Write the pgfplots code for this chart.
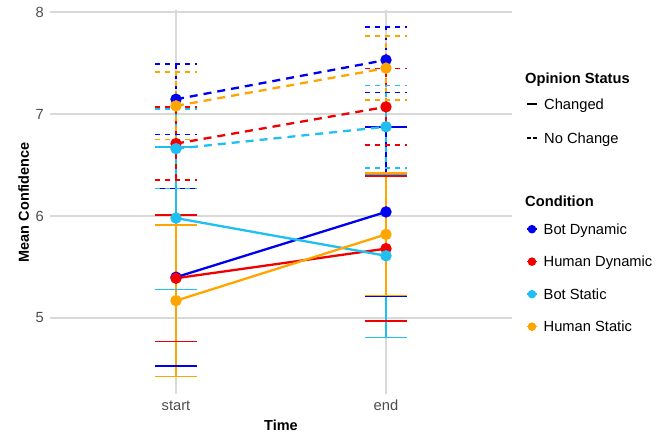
\documentclass[border=0pt]{standalone}
\usepackage{fontspec}
\setmainfont{Liberation Sans}
\usepackage{pgfplots}
\pgfplotsset{compat=1.18}
\definecolor{cBD}{HTML}{0000F0}
\definecolor{cHD}{HTML}{F00000}
\definecolor{cBS}{HTML}{1FBFF2}
\definecolor{cHS}{HTML}{FFA500}
\definecolor{gridc}{HTML}{D9D9D9}
\definecolor{tickc}{HTML}{4D4D4D}
\newcommand\fs{\fontsize{14.7}{17}\selectfont}
\pgfplotsset{
  ebar/.style n args={2}{forget plot, color=#1, only marks, mark=none,
    error bars/.cd, y dir=both, y explicit, error mark=none,
    error bar style={color=#1, line width=1.7pt, #2}},
  cap/.style n args={2}{forget plot, color=#1, line width=1.7pt, #2, mark=none, unbounded coords=jump},
  ln/.style n args={2}{forget plot, #1, line width=2.3pt, #2, mark=*, mark size=4.5pt, mark options={solid, fill=#1, draw=#1}},
  keyline/.style={legend image code/.code={\draw[##1] (0pt,0pt) -- (10pt,0pt);}},
  keypt/.style={legend image code/.code={\draw[##1] (0pt,0pt) -- (10pt,0pt); \fill[##1] (5pt,0pt) circle (3.5pt);}},
}
\begin{document}
\begin{tikzpicture}
\useasboundingbox (-50pt,-43.5pt) rectangle (617pt,394.5pt);
\begin{axis}[
  at={(0pt,0pt)}, anchor=south west, scale only axis, width=462pt, height=384.5pt,
  xmin=0.4, xmax=2.6, ymin=4.25, ymax=8.02,
  axis line style={draw=none}, major tick length=0pt,
  xtick={1,2}, xticklabels={start,end}, ytick={5,6,7,8},
  grid=major, major grid style={gridc, line width=1.2pt},
  ticklabel style={font=\fs, text=tickc},
  /pgf/number format/assume math mode=true,
  xticklabel style={anchor=base, yshift=-16.5pt, inner sep=0pt},
  yticklabel style={anchor=east, inner sep=0pt, xshift=-6pt},
  xlabel={Time}, ylabel={Mean Confidence},
  label style={font=\fontsize{14.5}{17}\selectfont\bfseries},
  xlabel style={at={([yshift=-36.5pt]axis description cs:0.5,0)}, anchor=base},
  ylabel style={at={([xshift=-21pt]axis description cs:0,0.5)}, anchor=base},
  clip=false,
  legend cell align=left,
  legend style={at={(axis description cs:1.0303,0.7692)}, anchor=north west, draw=none, fill=none,
    inner sep=0pt, row sep=23.5pt, column sep=6pt, font=\fs,
    nodes={inner sep=0pt, text height=10.5pt, text depth=0pt}},
]
% error bars (vertical)
\addplot[ebar={cBD}{solid}] coordinates {(1,5.40) +- (0,0.87) (2,6.04) +- (0,0.83)};
\addplot[ebar={cHD}{solid}] coordinates {(1,5.39) +- (0,0.62) (2,5.68) +- (0,0.71)};
\addplot[ebar={cBS}{solid}] coordinates {(1,5.98) +- (0,0.70) (2,5.61) +- (0,0.80)};
\addplot[ebar={cHS}{solid}] coordinates {(1,5.17) +- (0,0.745) (2,5.82) +- (0,0.60)};
\addplot[ebar={cBD}{dash pattern=on 5pt off 5pt}] coordinates {(1,7.145) +- (0,0.345) (2,7.53) +- (0,0.32)};
\addplot[ebar={cHD}{dash pattern=on 5pt off 5pt}] coordinates {(1,6.71) +- (0,0.36) (2,7.07) +- (0,0.375)};
\addplot[ebar={cBS}{dash pattern=on 5pt off 5pt}] coordinates {(1,6.66) +- (0,0.39) (2,6.875) +- (0,0.405)};
\addplot[ebar={cHS}{dash pattern=on 5pt off 5pt}] coordinates {(1,7.08) +- (0,0.33) (2,7.45) +- (0,0.315)};
% error bar caps
\addplot[cap={cBD}{solid}] coordinates {(0.9,6.27) (1.1,6.27) (1,nan) (0.9,4.53) (1.1,4.53) (1,nan) (1.9,6.87) (2.1,6.87) (2,nan) (1.9,5.21) (2.1,5.21)};
\addplot[cap={cHD}{solid}] coordinates {(0.9,6.01) (1.1,6.01) (1,nan) (0.9,4.77) (1.1,4.77) (1,nan) (1.9,6.39) (2.1,6.39) (2,nan) (1.9,4.97) (2.1,4.97)};
\addplot[cap={cBS}{solid}] coordinates {(0.9,6.68) (1.1,6.68) (1,nan) (0.9,5.28) (1.1,5.28) (1,nan) (1.9,6.41) (2.1,6.41) (2,nan) (1.9,4.81) (2.1,4.81)};
\addplot[cap={cHS}{solid}] coordinates {(0.9,5.915) (1.1,5.915) (1,nan) (0.9,4.425) (1.1,4.425) (1,nan) (1.9,6.42) (2.1,6.42) (2,nan) (1.9,5.22) (2.1,5.22)};
\addplot[cap={cBD}{dash pattern=on 5pt off 5pt}] coordinates {(0.9,7.49) (1.1,7.49) (1,nan) (0.9,6.80) (1.1,6.80) (1,nan) (1.9,7.85) (2.1,7.85) (2,nan) (1.9,7.21) (2.1,7.21)};
\addplot[cap={cHD}{dash pattern=on 5pt off 5pt}] coordinates {(0.9,7.07) (1.1,7.07) (1,nan) (0.9,6.35) (1.1,6.35) (1,nan) (1.9,7.445) (2.1,7.445) (2,nan) (1.9,6.695) (2.1,6.695)};
\addplot[cap={cBS}{dash pattern=on 5pt off 5pt}] coordinates {(0.9,7.05) (1.1,7.05) (1,nan) (0.9,6.27) (1.1,6.27) (1,nan) (1.9,7.28) (2.1,7.28) (2,nan) (1.9,6.47) (2.1,6.47)};
\addplot[cap={cHS}{dash pattern=on 5pt off 5pt}] coordinates {(0.9,7.41) (1.1,7.41) (1,nan) (0.9,6.75) (1.1,6.75) (1,nan) (1.9,7.765) (2.1,7.765) (2,nan) (1.9,7.135) (2.1,7.135)};
% lines and points
\addplot[ln={cBD}{solid}] coordinates {(1,5.40) (2,6.04)};
\addplot[ln={cHD}{solid}] coordinates {(1,5.39) (2,5.68)};
\addplot[ln={cBS}{solid}] coordinates {(1,5.98) (2,5.61)};
\addplot[ln={cHS}{solid}] coordinates {(1,5.17) (2,5.82)};
\addplot[ln={cBD}{dash pattern=on 8pt off 6pt}] coordinates {(1,7.145) (2,7.53)};
\addplot[ln={cHD}{dash pattern=on 8pt off 6pt}] coordinates {(1,6.71) (2,7.07)};
\addplot[ln={cBS}{dash pattern=on 8pt off 6pt}] coordinates {(1,6.66) (2,6.875)};
\addplot[ln={cHS}{dash pattern=on 8pt off 6pt}] coordinates {(1,7.08) (2,7.45)};
% legend
\addlegendimage{black, line width=2pt, keyline}
\addlegendentry{Changed}
\addlegendimage{black, line width=1.5pt, dash pattern=on 4pt off 2pt, keyline}
\addlegendentry{No Change}
\end{axis}
\begin{axis}[
  at={(0pt,0pt)}, anchor=south west, scale only axis, width=462pt, height=384.5pt,
  xmin=0.4, xmax=2.6, ymin=4.25, ymax=8.02, hide axis,
  legend cell align=left,
  legend style={at={(axis description cs:1.0303,0.4441)}, anchor=north west, draw=none, fill=none,
    inner sep=0pt, row sep=22pt, column sep=6pt, font=\fs,
    nodes={inner sep=0pt, text height=10.5pt, text depth=0pt}},
]
\addlegendimage{cBD, line width=1.5pt, keypt}
\addlegendentry{Bot Dynamic}
\addlegendimage{cHD, line width=1.5pt, keypt}
\addlegendentry{Human Dynamic}
\addlegendimage{cBS, line width=1.5pt, keypt}
\addlegendentry{Bot Static}
\addlegendimage{cHS, line width=1.5pt, keypt}
\addlegendentry{Human Static}
\end{axis}
\node[anchor=base west, inner sep=0pt, font=\fs\bfseries] at (475pt,310.5pt) {Opinion Status};
\node[anchor=base west, inner sep=0pt, font=\fs\bfseries] at (475pt,187.5pt) {Condition};
\end{tikzpicture}
\end{document}
